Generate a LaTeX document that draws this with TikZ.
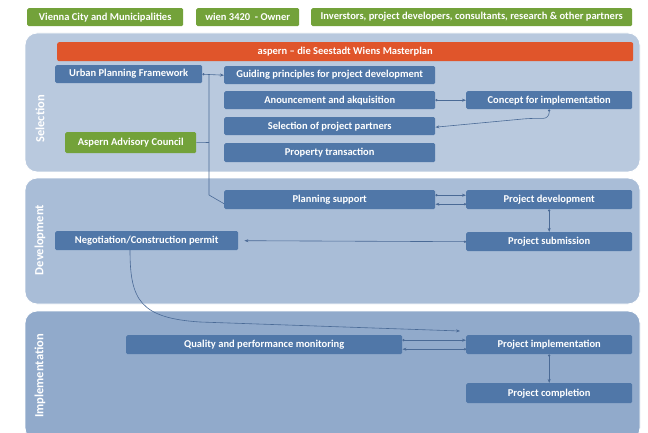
\documentclass[tikz,border=0pt]{standalone}
\usepackage{fontspec}
\setmainfont{Carlito}
\usetikzlibrary{arrows.meta,calc}
\definecolor{boxblue}{HTML}{5077A8}
\definecolor{greenbox}{HTML}{73A23A}
\definecolor{orangebar}{HTML}{E0552B}
\definecolor{panelA}{HTML}{B9C9DE}
\definecolor{panelB}{HTML}{A9BDD7}
\definecolor{panelC}{HTML}{91AACB}
\definecolor{linecol}{HTML}{4A6A96}
\tikzset{
  bx/.style={fill=boxblue, text=white, font=\bfseries\fontsize{10.5}{12}\selectfont, rounded corners=1.5pt, inner sep=0pt, anchor=north west},
  gbx/.style={bx, fill=greenbox},
  obx/.style={bx, fill=orangebar, rounded corners=2pt},
  panel/.style={rounded corners=12pt, draw=white, line width=0.8pt},
  seclabel/.style={rotate=90, text=white, font=\bfseries\fontsize{12.5}{14}\selectfont},
  conn/.style={draw=linecol, line width=0.6pt, {Circle[length=2.2pt]}-{Stealth[length=4pt,width=3pt]}},
  plain/.style={draw=linecol, line width=0.6pt},
}
\newcommand{\bxat}[6]{\node[#1, minimum width=#4pt, minimum height=#5pt] (#2) at (#3) {#6};}
\begin{document}
\begin{tikzpicture}[x=1pt,y=-1pt]
\useasboundingbox (0,0) rectangle (648,433);
\fill[white] (0,0) rectangle (648,433);
% panels
\filldraw[panel, fill=panelA] (25,33) rectangle (640,172);
\filldraw[panel, fill=panelB] (25,178) rectangle (640,304);
\filldraw[panel, fill=panelC] (25,311) rectangle (640,440);
\node[seclabel] (s1) at (40,119) {Selection};
\node[seclabel] (s2) at (40,240) {Development};
\node[seclabel] (s3) at (40,376) {Implementation};
% top green boxes
\bxat{gbx}{g1}{27,8}{156}{18}{Vienna City and Municipalities}
\bxat{gbx}{g2}{196,8}{103}{18}{wien 3420 \ - Owner}
\bxat{gbx}{g3}{311,8}{321}{18}{Inverstors, project developers, consultants, research \& other partners}
% selection
\bxat{obx}{mp}{57,42}{576}{19}{aspern -- die Seestadt Wiens Masterplan}
\bxat{bx}{upf}{55,65}{147}{18}{Urban Planning Framework}
\bxat{bx}{gp}{224,66}{211}{18}{Guiding principles for project development}
\bxat{bx}{aa}{224,91}{211}{18}{Anouncement and akquisition}
\bxat{bx}{ci}{466,91}{166}{18}{Concept for implementation}
\bxat{bx}{sp}{224,117}{211}{18}{Selection of project partners}
\bxat{bx}{pt}{224,143}{211}{19}{Property transaction}
\bxat{gbx}{aac}{65,132}{131}{21}{Aspern Advisory Council}
% development
\bxat{bx}{ps}{224,190}{211}{19}{Planning support}
\bxat{bx}{pd}{466,190}{166}{19}{Project development}
\bxat{bx}{psub}{466,232}{166}{19}{Project submission}
\bxat{bx}{ncp}{55,231}{183}{19}{Negotiation/Construction permit}
% implementation
\bxat{bx}{qpm}{126,335}{276}{19}{Quality and performance monitoring}
\bxat{bx}{pi}{466,335}{166}{19}{Project implementation}
\bxat{bx}{pc}{466,383}{166}{20}{Project completion}
% connectors
\draw[conn] (upf.east) -- (gp.west);
\draw[plain] (209,75) -- (209,195) -- ([yshift=-4pt]ps.west);
\draw[plain] (aac.east) -- (209,142.5);
\draw[conn] (aa.east) -- (ci.west);
\draw[conn, rounded corners=6pt] (ci.south) -- ++(0,9) -- ++(-20,0) -- ([yshift=-1pt]sp.east);
\draw[conn] ([yshift=4.5pt]ps.east) -- ([yshift=4.5pt]pd.west);
\draw[conn] ([yshift=-4.5pt]pd.west) -- ([yshift=-4.5pt]ps.east);
\draw[conn] (pd.south) -- (psub.north);
\draw[conn] (psub.west) -- ([xshift=6pt]ncp.east);
\draw[plain, -{Stealth[length=4pt,width=3pt]}] (130,250) .. controls (130,300) and (140,318) .. (200,322) -- (460,331);
\draw[conn] ([yshift=4.5pt]qpm.east) -- ([yshift=4.5pt]pi.west);
\draw[conn] ([yshift=-4.5pt]pi.west) -- ([yshift=-4.5pt]qpm.east);
\draw[conn] (pi.south) -- (pc.north);
\end{tikzpicture}
\end{document}
